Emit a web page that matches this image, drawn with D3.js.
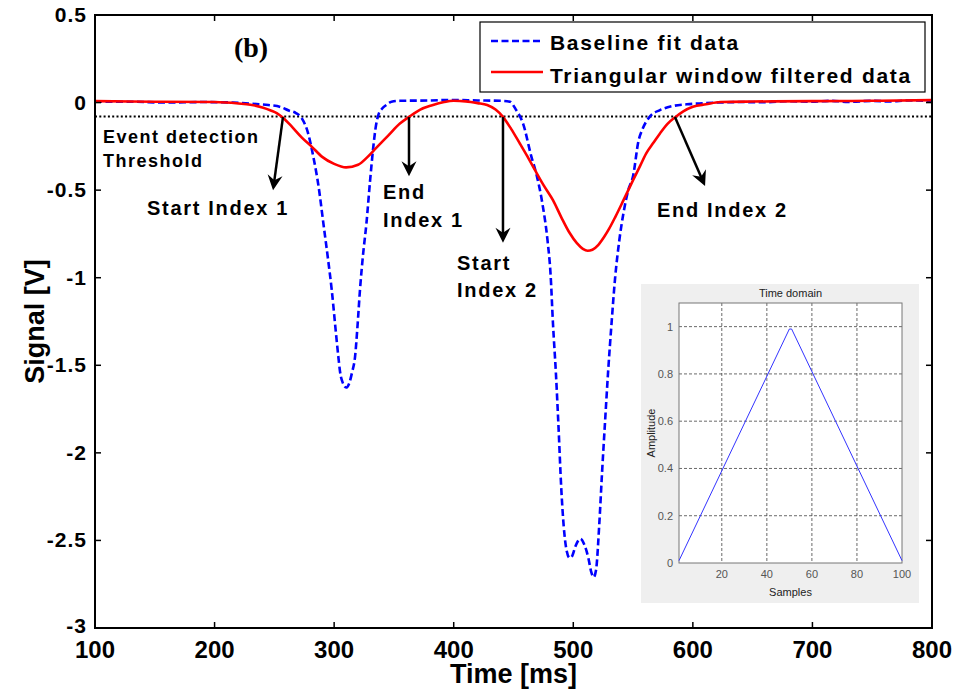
<!DOCTYPE html>
<html><head><meta charset="utf-8">
<script src="https://cdn.jsdelivr.net/npm/d3@7"></script>
<style>
html,body{margin:0;padding:0;background:#fff;}
svg{display:block;}
</style></head>
<body>
<script>
// ---------- data ----------
const xTicks = [100,200,300,400,500,600,700,800];
const yTicks = [0.5,0,-0.5,-1,-1.5,-2,-2.5,-3];
const yTickLabels = ["0.5","0","-0.5","-1","-1.5","-2","-2.5","-3"];

const blueT = [100,130,160,190,215,235,245,255,262,268,273,278,282.6,287,291,295,298,301,303.5,305,307.5,310,312.5,315,317.5,319.5,321.6,324,327,330,332.8,335,337,340,344,348,355,380,400,420,440,447,452,458,465,469,474,478.5,481,483,485.5,487.5,490,492,494.5,497,499,502,506,509,512.6,515,517,519,521.8,524,526.5,529,532,535,538.5,542,546,550,554.5,558,564,572.5,583,595,608,620,640,660,680,700,715,730,750,765,780,800];
const blueV = [0.005,0.005,0.0,0.003,0.0,-0.008,-0.014,-0.025,-0.045,-0.06,-0.09,-0.17,-0.31,-0.48,-0.69,-0.9,-1.07,-1.28,-1.45,-1.54,-1.605,-1.627,-1.605,-1.54,-1.45,-1.28,-1.07,-0.88,-0.69,-0.45,-0.25,-0.13,-0.07,-0.035,-0.012,0.005,0.01,0.012,0.015,0.012,0.01,0.005,-0.04,-0.12,-0.31,-0.405,-0.57,-0.79,-0.98,-1.26,-1.55,-1.83,-2.21,-2.42,-2.56,-2.6,-2.59,-2.53,-2.49,-2.52,-2.6,-2.68,-2.71,-2.67,-2.40,-2.12,-1.83,-1.55,-1.26,-1.0,-0.786,-0.63,-0.5,-0.42,-0.22,-0.15,-0.08,-0.043,-0.02,-0.01,-0.004,0.0,0.003,0.002,0.008,0.005,0.01,0.004,0.01,0.006,0.012,0.008];

const redT = [100,150,200,220,230,240,247,252,257,265,273,281,290,300,310,320,328,335,345,355,363,372,382,392,400,410,420,428,435,441,448,455,461,468,475,483,490,497,503,508,512,516,521,526,530,535,542,550,556,561,567,572.5,579,585,592,600,611,623,650,700,750,800];
const redV = [0.008,0.005,0.003,-0.005,-0.012,-0.028,-0.045,-0.06,-0.085,-0.14,-0.2,-0.25,-0.31,-0.35,-0.37,-0.355,-0.31,-0.26,-0.19,-0.12,-0.08,-0.04,-0.015,0.003,0.01,0.007,-0.003,-0.014,-0.04,-0.08,-0.15,-0.23,-0.3,-0.386,-0.47,-0.557,-0.655,-0.745,-0.803,-0.835,-0.846,-0.84,-0.812,-0.765,-0.72,-0.655,-0.557,-0.443,-0.36,-0.29,-0.23,-0.176,-0.12,-0.085,-0.05,-0.024,-0.01,0.003,0.006,0.008,0.01,0.014];

const threshold = -0.08;
const legendLabels = ["Baseline fit data","Triangular window filtered data"];

// annotations (data coordinates)
const arrows = [
  {t1:257.2, v1:-0.083, t2:248.9, v2:-0.50},
  {t1:362.6, v1:-0.083, t2:362.6, v2:-0.42},
  {t1:441.2, v1:-0.083, t2:441.2, v2:-0.80},
  {t1:585.0, v1:-0.083, t2:610.2, v2:-0.476}
];
const notes = [
  {t:106.7, v:-0.231, s:"Event detection", size:18},
  {t:106.7, v:-0.368, s:"Threshold", size:18},
  {t:143.5, v:-0.642, s:"Start Index 1", size:20},
  {t:340.9, v:-0.552, s:"End", size:20},
  {t:340.9, v:-0.711, s:"Index 1", size:20},
  {t:402.8, v:-0.957, s:"Start", size:20},
  {t:402.8, v:-1.111, s:"Index 2", size:20},
  {t:570.0, v:-0.653, s:"End Index 2", size:20}
];

// inset data
const winSamples = [1,50,51,100];
const winAmp = [0.01,0.99,0.99,0.01];
const insetXTicks = [20,40,60,80,100];
const insetYTicks = [0,0.2,0.4,0.6,0.8,1];
const insetYLabels = ["0","0.2","0.4","0.6","0.8","1"];

// ---------- drawing ----------
const SANS = "'Liberation Sans', Arial, Helvetica, sans-serif";
const SERIF = "'Liberation Serif', 'Times New Roman', serif";
const W = 957, H = 690;
const svg = d3.select("body").append("svg").attr("width", W).attr("height", H)
  .style("font-family", SANS);

const L = 95, R = 932, T = 15, B = 628;
const x = d3.scaleLinear().domain([100,800]).range([L,R]);
const y = d3.scaleLinear().domain([-3,0.5]).range([B,T]);

svg.append("clipPath").attr("id","clip").append("rect")
  .attr("x",L).attr("y",T).attr("width",R-L).attr("height",B-T);

const gPlot = svg.append("g").attr("clip-path","url(#clip)");

// threshold dotted line
gPlot.append("line")
  .attr("x1",x(100)).attr("x2",x(800))
  .attr("y1",y(threshold)).attr("y2",y(threshold))
  .attr("stroke","#000").attr("stroke-width",2).attr("stroke-dasharray","2,2.3");

const line = d3.line().x(d=>x(d[0])).y(d=>y(d[1])).curve(d3.curveMonotoneX);
const blue = blueT.map((t,i)=>[t,blueV[i]]);
const red = redT.map((t,i)=>[t,redV[i]]);

gPlot.append("path").datum(blue).attr("d",line)
  .attr("fill","none").attr("stroke","#0000ff").attr("stroke-width",2.6)
  .attr("stroke-dasharray","7,3.5");
gPlot.append("path").datum(red).attr("d",line)
  .attr("fill","none").attr("stroke","#ff0000").attr("stroke-width",2.6);

// inset
const iL = 679, iR = 902, iT = 303, iB = 563;
svg.append("rect").attr("x",641).attr("y",284).attr("width",278).attr("height",319).attr("fill","#efefef");
svg.append("rect").attr("x",iL).attr("y",iT).attr("width",iR-iL).attr("height",iB-iT).attr("fill","#fff");
const ix = d3.scaleLinear().domain([1,100]).range([iL,iR]);
const iy = d3.scaleLinear().domain([0,1.1]).range([iB,iT]);
const gi = svg.append("g");
insetXTicks.slice(0,4).forEach(v=>{
  gi.append("line").attr("x1",ix(v)).attr("x2",ix(v)).attr("y1",iT).attr("y2",iB)
    .attr("stroke","#444").attr("stroke-width",0.8).attr("stroke-dasharray","3,2");
});
insetYTicks.slice(1).forEach(v=>{
  gi.append("line").attr("x1",iL).attr("x2",iR).attr("y1",iy(v)).attr("y2",iy(v))
    .attr("stroke","#444").attr("stroke-width",0.8).attr("stroke-dasharray","3,2");
});
gi.append("rect").attr("x",iL).attr("y",iT).attr("width",iR-iL).attr("height",iB-iT)
  .attr("fill","none").attr("stroke","#777").attr("stroke-width",1);
gi.append("path").datum(winSamples.map((s,i)=>[s,winAmp[i]]))
  .attr("d",d3.line().x(d=>ix(d[0])).y(d=>iy(d[1])))
  .attr("fill","none").attr("stroke","#3333ff").attr("stroke-width",1);
insetXTicks.forEach(v=>{
  gi.append("text").attr("x",ix(v)).attr("y",iB+15).attr("text-anchor","middle")
    .attr("font-size",11).attr("fill","#555").text(v);
});
insetYTicks.forEach((v,i)=>{
  gi.append("text").attr("x",iL-6).attr("y",iy(v)+4).attr("text-anchor","end")
    .attr("font-size",11).attr("fill","#555").text(insetYLabels[i]);
});
gi.append("text").attr("x",(iL+iR)/2).attr("y",iT-6).attr("text-anchor","middle")
  .attr("font-size",11).attr("fill","#222").text("Time domain");
gi.append("text").attr("x",(iL+iR)/2).attr("y",iB+33).attr("text-anchor","middle")
  .attr("font-size",11).attr("fill","#222").text("Samples");
gi.append("text").attr("transform",`translate(655,${(iT+iB)/2}) rotate(-90)`)
  .attr("text-anchor","middle").attr("font-size",11).attr("fill","#222").text("Amplitude");

// frame and ticks
const gAx = svg.append("g");
gAx.append("rect").attr("x",L).attr("y",T).attr("width",R-L).attr("height",B-T)
  .attr("fill","none").attr("stroke","#000").attr("stroke-width",2);
const tl = 6;
xTicks.forEach(v=>{
  gAx.append("line").attr("x1",x(v)).attr("x2",x(v)).attr("y1",B).attr("y2",B-tl).attr("stroke","#000").attr("stroke-width",1.5);
  gAx.append("line").attr("x1",x(v)).attr("x2",x(v)).attr("y1",T).attr("y2",T+tl).attr("stroke","#000").attr("stroke-width",1.5);
  gAx.append("text").attr("x",x(v)).attr("y",B+30).attr("text-anchor","middle")
    .attr("font-size",24).attr("font-weight","bold").text(v);
});
yTicks.forEach((v,i)=>{
  gAx.append("line").attr("x1",L).attr("x2",L+tl).attr("y1",y(v)).attr("y2",y(v)).attr("stroke","#000").attr("stroke-width",1.5);
  gAx.append("line").attr("x1",R).attr("x2",R-tl).attr("y1",y(v)).attr("y2",y(v)).attr("stroke","#000").attr("stroke-width",1.5);
  gAx.append("text").attr("x",L-8).attr("y",y(v)+(v===-3?5:7)).attr("text-anchor","end")
    .attr("font-size",21).attr("font-weight","bold").attr("letter-spacing",1).text(yTickLabels[i]);
});
svg.append("text").attr("x",(L+R)/2).attr("y",683).attr("text-anchor","middle")
  .attr("font-size",27).attr("font-weight","bold").text("Time [ms]");
svg.append("text").attr("transform",`translate(44,${(T+B)/2}) rotate(-90)`).attr("text-anchor","middle")
  .attr("font-size",27).attr("font-weight","bold").text("Signal [V]");

// (b)
svg.append("text").attr("x",251).attr("y",57).attr("text-anchor","middle")
  .style("font-family", SERIF)
  .attr("font-size",28).attr("font-weight","bold").text("(b)");

// legend
const lg = svg.append("g");
lg.append("rect").attr("x",480).attr("y",22).attr("width",445).attr("height",70)
  .attr("fill","#fff").attr("stroke","#000").attr("stroke-width",1.2);
lg.append("line").attr("x1",491).attr("x2",543).attr("y1",41).attr("y2",41)
  .attr("stroke","#0000ff").attr("stroke-width",2.6).attr("stroke-dasharray","7,3.5");
lg.append("line").attr("x1",491).attr("x2",543).attr("y1",72).attr("y2",72)
  .attr("stroke","#ff0000").attr("stroke-width",2.6);
lg.append("text").attr("x",550).attr("y",50).attr("font-size",21).attr("font-weight","bold")
  .attr("letter-spacing",1.7).text(legendLabels[0]);
lg.append("text").attr("x",550).attr("y",83).attr("font-size",21).attr("font-weight","bold")
  .attr("letter-spacing",1.7).text(legendLabels[1]);

// annotations
notes.forEach(n=>{
  svg.append("text").attr("x",x(n.t)).attr("y",y(n.v)).attr("font-size",n.size)
    .attr("font-weight","bold").attr("letter-spacing",n.size===18?1.5:1.7).text(n.s);
});
arrows.forEach(a=>{
  const x1=x(a.t1), y1=y(a.v1), x2=x(a.t2), y2=y(a.v2);
  const ang = Math.atan2(y2-y1, x2-x1);
  const len = 15, half = 7.5, back = 10;
  const ux=Math.cos(ang), uy=Math.sin(ang), px=-uy, py=ux;
  svg.append("line").attr("x1",x1).attr("y1",y1).attr("x2",x2-ux*6).attr("y2",y2-uy*6)
    .attr("stroke","#000").attr("stroke-width",2.5);
  const p = [
    [x2,y2],
    [x2-ux*len+px*half, y2-uy*len+py*half],
    [x2-ux*back, y2-uy*back],
    [x2-ux*len-px*half, y2-uy*len-py*half]
  ];
  svg.append("path").attr("d","M"+p.map(q=>q.join(",")).join("L")+"Z").attr("fill","#000");
});
</script>
</body></html>
